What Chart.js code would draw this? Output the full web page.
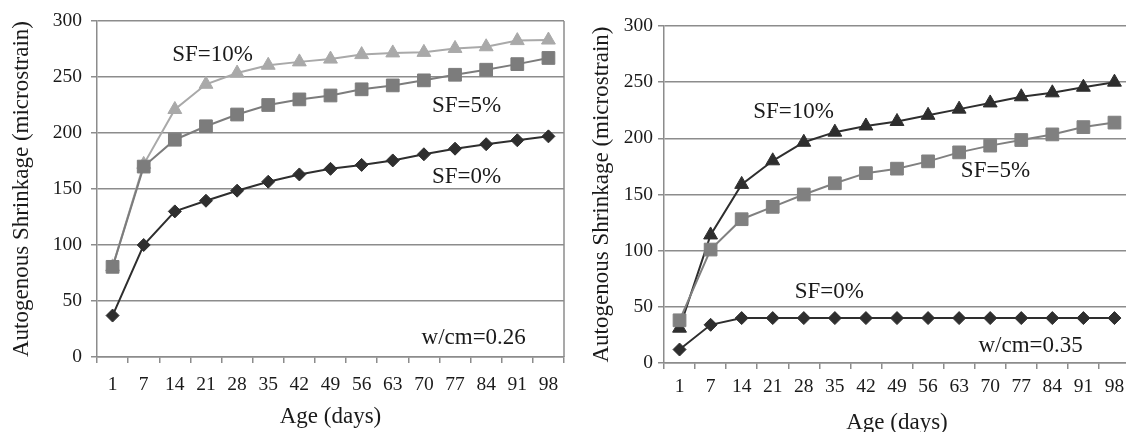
<!DOCTYPE html>
<html>
<head>
<meta charset="utf-8">
<script src="https://cdn.jsdelivr.net/npm/chart.js@4.4.1/dist/chart.umd.min.js"></script>
<style>
  html, body { margin: 0; padding: 0; background: #fff; overflow: hidden; width: 1126px; height: 432px; }
  .wrap { position: absolute; top: 0; height: 432px; overflow: hidden; }
</style>
</head>
<body>
<div class="wrap" style="left:0;width:580px"><canvas id="c1" width="580" height="432"></canvas></div>
<div class="wrap" style="left:580px;width:560px"><canvas id="c2" width="560" height="437"></canvas></div>
<script>
const ageDays = ['1','7','14','21','28','35','42','49','56','63','70','77','84','91','98'];
const yTicks = [0, 50, 100, 150, 200, 250, 300];

// w/cm = 0.26
const a_sf0  = [37, 100, 130, 139.5, 148.5, 156.5, 163, 168, 171.5, 175.5, 181, 186, 190, 193.5, 197];
const a_sf5  = [80.5, 170, 194, 206, 216.5, 225, 230, 233.5, 239, 242.5, 247, 252, 256.5, 261.5, 267];
const a_sf10 = [80.5, 172, 221, 243.5, 253.5, 260.5, 263.5, 266, 270, 271.5, 272, 275.5, 277, 282.5, 283];

// w/cm = 0.35
const b_sf0  = [12, 34, 40, 40, 40, 40, 40, 40, 40, 40, 40, 40, 40, 40, 40];
const b_sf5  = [38, 101, 128, 139, 150, 160, 169, 173, 179.5, 187.5, 193.5, 198.5, 203.5, 210, 214];
const b_sf10 = [31, 114, 159, 180, 196.5, 205.5, 211, 215, 220.5, 226, 231.5, 237, 240.5, 245.5, 250];

const FONT = '"Liberation Serif", "DejaVu Serif", serif';
const TXT = '#1a1a1a';
const GRID = '#8c8c8c';

const notesPlugin = {
  id: 'notes',
  afterDatasetsDraw(chart, args, opts) {
    const ctx = chart.ctx;
    const xs = chart.scales.x, ys = chart.scales.y;
    ctx.save();
    ctx.fillStyle = TXT;
    ctx.font = '23px ' + FONT;
    ctx.textAlign = 'center';
    ctx.textBaseline = 'middle';
    (opts.items || []).forEach(n => {
      ctx.fillText(n.text, xs.getPixelForValue(n.i), ys.getPixelForValue(n.v));
    });
    if (opts.rightBorder) {
      const a = chart.chartArea;
      ctx.strokeStyle = GRID;
      ctx.lineWidth = 1.5;
      ctx.beginPath();
      ctx.moveTo(a.right, a.top);
      ctx.lineTo(a.right, a.bottom);
      ctx.stroke();
    }
    ctx.restore();
  }
};

function ds(label, data, color, style, r) {
  return {
    label, data,
    borderColor: color, backgroundColor: color,
    pointBackgroundColor: color, pointBorderColor: color,
    borderWidth: 2, pointStyle: style, pointRadius: r, pointHoverRadius: r,
    pointBorderWidth: 1, tension: 0, fill: false
  };
}

function makeChart(id, datasets, cfg) {
  return new Chart(document.getElementById(id), {
    type: 'line',
    data: { labels: ageDays, datasets },
    options: {
      responsive: false,
      animation: false,
      events: [],
      layout: { padding: cfg.padding },
      plugins: {
        legend: { display: false },
        tooltip: { enabled: false },
        notes: { items: cfg.notes, rightBorder: cfg.rightBorder }
      },
      scales: {
        x: {
          type: 'category',
          offset: true,
          afterFit: s => { s.height = cfg.xHeight; },
          grid: { offset: true, drawOnChartArea: false, drawTicks: true, tickLength: 6, color: GRID, lineWidth: 1.5 },
          border: { color: GRID, width: 1.5 },
          ticks: { autoSkip: false, maxRotation: 0, color: TXT, font: { family: FONT, size: 19.5 }, padding: cfg.xTickPad },
          title: { display: true, text: 'Age (days)', color: TXT, font: { family: FONT, size: 23 }, padding: { top: 0, bottom: cfg.xTitlePad } }
        },
        y: {
          min: 0, max: 300,
          afterFit: s => { s.width = cfg.yWidth; },
          afterBuildTicks: s => { s.ticks = yTicks.map(v => ({ value: v })); },
          grid: { drawTicks: true, tickLength: 6, color: GRID, lineWidth: 1.5 },
          border: { color: GRID, width: 1.5 },
          ticks: { color: TXT, font: { family: FONT, size: 19.5 }, padding: cfg.yTickPad },
          title: { display: true, text: 'Autogenous Shrinkage (microstrain)', color: TXT, font: { family: FONT, size: 23 }, padding: { top: 8, bottom: 0 } }
        }
      }
    },
    plugins: [notesPlugin]
  });
}

makeChart('c1', [
  ds('SF=0%', a_sf0, '#2e2e2e', 'rectRot', 6.5),
  ds('SF=5%', a_sf5, '#7c7c7c', 'rect', 9),
  ds('SF=10%', a_sf10, '#a9a9a9', 'triangle', 8)
], {
  padding: { left: 0, right: 16, top: 21, bottom: 0 },
  xHeight: 75, yWidth: 97, yTickPad: 9, xTickPad: 10, xTitlePad: 1, rightBorder: true,
  notes: [
    { text: 'SF=10%', i: 3.21, v: 270 },
    { text: 'SF=5%', i: 11.37, v: 224.5 },
    { text: 'SF=0%', i: 11.37, v: 161 },
    { text: 'w/cm=0.26', i: 11.6, v: 17 }
  ]
});

makeChart('c2', [
  ds('SF=0%', b_sf0, '#2e2e2e', 'rectRot', 6.5),
  ds('SF=5%', b_sf5, '#808080', 'rect', 9),
  ds('SF=10%', b_sf10, '#2e2e2e', 'triangle', 8)
], {
  padding: { left: 0, right: 8, top: 26, bottom: 0 },
  xHeight: 74, yWidth: 84, yTickPad: 5, xTickPad: 6, xTitlePad: 0, rightBorder: false,
  notes: [
    { text: 'SF=10%', i: 3.67, v: 223.5 },
    { text: 'SF=5%', i: 10.17, v: 171 },
    { text: 'SF=0%', i: 4.82, v: 63 },
    { text: 'w/cm=0.35', i: 11.3, v: 15 }
  ]
});
</script>
</body>
</html>
